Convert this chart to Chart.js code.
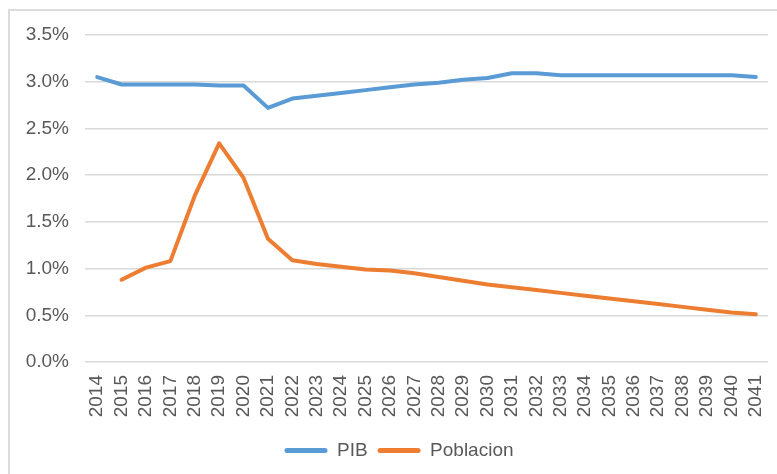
<!DOCTYPE html>
<html>
<head>
<meta charset="utf-8">
<script src="https://cdn.jsdelivr.net/npm/chart.js@4/dist/chart.umd.min.js"></script>
<style>
  body { margin: 0; background: #fff; }
  #wrap { position: relative; width: 777px; height: 474px; overflow: hidden; }
  #frame { position: absolute; left: 8px; top: 9px; width: 800px; height: 500px; border: 2px solid #dcdcdc; box-sizing: border-box; }
  canvas { position: absolute; left: 0; top: 0; }
</style>
</head>
<body>
<div id="wrap">
  <div id="frame"></div>
  <canvas id="chart" width="777" height="474"></canvas>
</div>
<script>
const years = ["2014","2015","2016","2017","2018","2019","2020","2021","2022","2023","2024","2025","2026","2027",
  "2028","2029","2030","2031","2032","2033","2034","2035","2036","2037","2038","2039","2040","2041"];

// % anual
const pib = [3.05, 2.97, 2.97, 2.97, 2.97, 2.96, 2.96, 2.72, 2.82, 2.85, 2.88, 2.91, 2.94, 2.97,
  2.99, 3.02, 3.04, 3.09, 3.09, 3.07, 3.07, 3.07, 3.07, 3.07, 3.07, 3.07, 3.07, 3.05];
const poblacion = [null, 0.88, 1.01, 1.08, 1.78, 2.34, 1.97, 1.32, 1.09, 1.05, 1.02, 0.99, 0.98, 0.95,
  0.91, 0.87, 0.83, 0.80, 0.77, 0.74, 0.71, 0.68, 0.65, 0.62, 0.59, 0.56, 0.53, 0.51];

const yTicks = [0, 0.5, 1, 1.5, 2, 2.5, 3, 3.5];

Chart.defaults.font.family = "'Liberation Sans', Arial, sans-serif";
Chart.defaults.font.size = 19;
Chart.defaults.color = "#595959";

function serie(label, data, color) {
  return {
    label: label,
    data: data,
    borderColor: color,
    backgroundColor: color,
    borderWidth: 4,
    pointRadius: 0,
    tension: 0,
    borderJoinStyle: "round",
    borderCapStyle: "round",
    spanGaps: false
  };
}

// legend sits a bit right of centre in the original
const shiftLegend = {
  id: "shiftLegend",
  afterLayout(chart) {
    chart.legend.left += 15;
    chart.legend.right += 15;
  }
};

new Chart(document.getElementById("chart"), {
  type: "line",
  data: {
    labels: years,
    datasets: [
      serie("PIB", pib, "#5b9bd5"),
      serie("Poblacion", poblacion, "#ed7d31")
    ]
  },
  plugins: [shiftLegend],
  options: {
    responsive: false,
    animation: false,
    layout: { padding: { top: 35, right: 9, bottom: 4, left: 0 } },
    plugins: {
      tooltip: { enabled: false },
      legend: {
        position: "bottom",
        labels: {
          boxWidth: 43,
          boxHeight: 5,
          padding: 10,
          useBorderRadius: true,
          borderRadius: 2.5,
          generateLabels(chart) {
            return Chart.defaults.plugins.legend.labels.generateLabels(chart)
              .map(l => Object.assign(l, { lineWidth: 0 }));
          }
        }
      }
    },
    scales: {
      x: {
        offset: true,
        grid: { display: false, drawTicks: false },
        border: { display: false },
        ticks: { autoSkip: false, minRotation: 90, maxRotation: 90, padding: 13 },
        afterFit(scale) {
          scale.height = 69;
          scale.paddingLeft = 0;
          scale.paddingRight = 0;
        }
      },
      y: {
        min: 0,
        max: 3.5,
        afterBuildTicks(scale) { scale.ticks = yTicks.map(v => ({ value: v })); },
        grid: { color: "#d9d9d9", lineWidth: 1.5, drawTicks: false },
        border: { display: false },
        ticks: { padding: 16, callback: v => v.toFixed(1) + "%" },
        afterFit(scale) { scale.width = 85; }
      }
    }
  }
});
</script>
</body>
</html>
